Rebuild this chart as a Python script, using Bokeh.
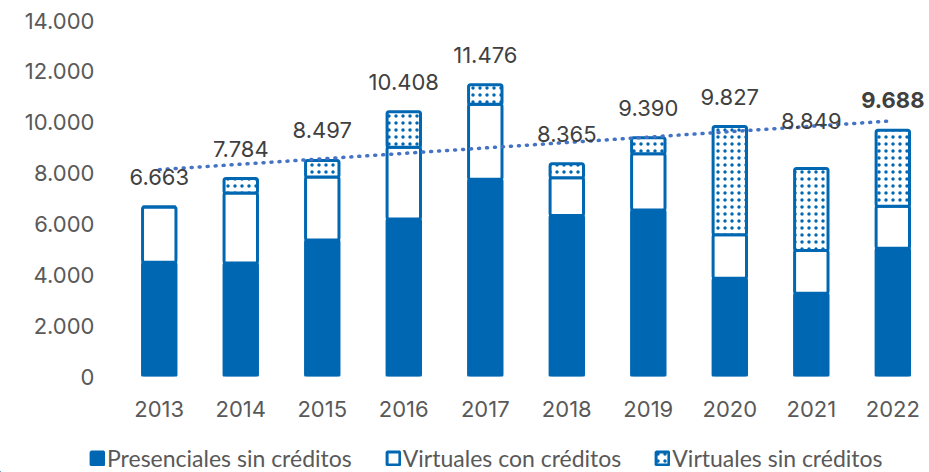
import numpy as np
from bokeh.plotting import figure
from bokeh.layouts import column
from bokeh.models import Range1d, FixedTicker, Legend, LegendItem
from bokeh.core.properties import value
from bokeh.embed import file_html
from bokeh.resources import INLINE

years = [2013, 2014, 2015, 2016, 2017, 2018, 2019, 2020, 2021, 2022]
presenciales_sin = [4493, 4464, 5367, 6193, 7759, 6335, 6547, 3863, 3272, 5045]
virtuales_con = [2170, 2750, 2479, 2822, 2950, 1484, 2217, 1709, 1682, 1647]
virtuales_sin = [0, 570, 651, 1393, 767, 546, 626, 4255, 3230, 2996]
totales = [6663, 7784, 8497, 10408, 11476, 8365, 9390, 9827, 8849, 9688]
series_names = ["Presenciales sin créditos", "Virtuales con créditos", "Virtuales sin créditos"]
y_ticks = [0, 2000, 4000, 6000, 8000, 10000, 12000, 14000]
y_tick_labels = ["0", "2.000", "4.000", "6.000", "8.000", "10.000", "12.000", "14.000"]
x_tick_labels = [str(y) for y in years]
total_labels = [f"{v:,}".replace(",", ".") for v in totales]

BLUE = "#0067B2"
TREND = "#4472C4"
AXIS_TXT = "#595959"
LBL_TXT = "#404040"

p = figure(width=929, height=430, output_backend="svg", toolbar_location=None,
           x_range=Range1d(2012.5, 2022.45), y_range=Range1d(0, 14000),
           min_border_left=118, min_border_right=0, min_border_top=20, min_border_bottom=54)
p.outline_line_color = None
p.grid.visible = False
p.frame_align = False

yrs = np.array(years, dtype=float)
b0 = np.zeros(len(years))
t0 = b0 + np.array(presenciales_sin)
t1 = t0 + np.array(virtuales_con)
t2 = t1 + np.array(virtuales_sin)

w = 0.41
bar_pres = dict(fill_color=BLUE, line_color=BLUE, line_width=3, border_radius=2)
bar_vcon = dict(fill_color="white", line_color=BLUE, line_width=3, border_radius=2)
bar_vsin = dict(fill_color="white", line_color=BLUE, line_width=3, border_radius=2,
                hatch_pattern="dot", hatch_color=BLUE, hatch_scale=7, hatch_weight=1)

p.vbar(x=yrs, bottom=b0, top=t0, width=w, **bar_pres)
p.vbar(x=yrs, bottom=t0, top=t1, width=w, **bar_vcon)
p.vbar(x=yrs, bottom=t1, top=t2, width=w, **bar_vsin)

# linear trend of totals (Excel-style trendline)
coef = np.polyfit(yrs, np.array(totales, dtype=float), 1)
trend = np.polyval(coef, yrs)
p.line(x=yrs, y=trend, line_color=TREND, line_width=3.5, line_dash="1 7", line_cap="round")

p.text(x=yrs[:-1], y=totales[:-1], text=total_labels[:-1], text_font=value("Inter"),
       text_font_size="22px", text_color=LBL_TXT, text_align="center",
       text_baseline="alphabetic", y_offset=-30)
p.text(x=yrs[-1:], y=totales[-1:], text=total_labels[-1:], text_font=value("Inter"),
       text_font_size="22px", text_font_style="bold", text_color=LBL_TXT, text_align="center",
       text_baseline="alphabetic", y_offset=-30)

# axes
p.xaxis.ticker = FixedTicker(ticks=years)
p.xaxis.major_label_overrides = {y: s for y, s in zip(years, x_tick_labels)}
p.yaxis.ticker = FixedTicker(ticks=y_ticks)
p.yaxis.major_label_overrides = {t: s for t, s in zip(y_ticks, y_tick_labels)}
for ax in (p.xaxis, p.yaxis):
    ax.axis_line_color = None
    ax.major_tick_line_color = None
    ax.minor_tick_line_color = None
    ax.major_tick_out = 0
    ax.major_tick_in = 0
    ax.major_label_text_font = "Inter"
    ax.major_label_text_font_size = "22px"
    ax.major_label_text_color = AXIS_TXT
p.xaxis.major_label_standoff = 24
p.yaxis.major_label_standoff = 24

# legend strip below the chart (its swatches use the same bar styles)
lg = figure(width=929, height=42, output_backend="svg", toolbar_location=None,
            x_range=Range1d(0, 1), y_range=Range1d(0, 1),
            x_axis_location=None, y_axis_location=None,
            min_border_left=0, min_border_right=0, min_border_top=0, min_border_bottom=0)
lg.outline_line_color = None
lg.grid.visible = False
lg.frame_align = False
sx, sb, st = [-100.0], [-100.0], [-100.0]   # swatch-only renderers, zero size, off-view
l_pres = lg.vbar(x=sx, bottom=sb, top=st, width=0, **bar_pres)
l_vcon = lg.vbar(x=sx, bottom=sb, top=st, width=0, **bar_vcon)
l_vsin = lg.vbar(x=sx, bottom=sb, top=st, width=0, **bar_vsin)

legend = Legend(items=[LegendItem(label=series_names[0], renderers=[l_pres]),
                       LegendItem(label=series_names[1], renderers=[l_vcon]),
                       LegendItem(label=series_names[2], renderers=[l_vsin])],
                orientation="horizontal", location=(89, 0),
                glyph_width=16, glyph_height=16, label_height=22, label_standoff=2,
                spacing=33, padding=0, margin=0,
                label_text_font="Lato", label_text_font_size="23px",
                label_text_color=AXIS_TXT, background_fill_alpha=0, border_line_color=None)
lg.add_layout(legend, "center")

open("out.html", "w").write(file_html(column(p, lg, spacing=0), INLINE))
